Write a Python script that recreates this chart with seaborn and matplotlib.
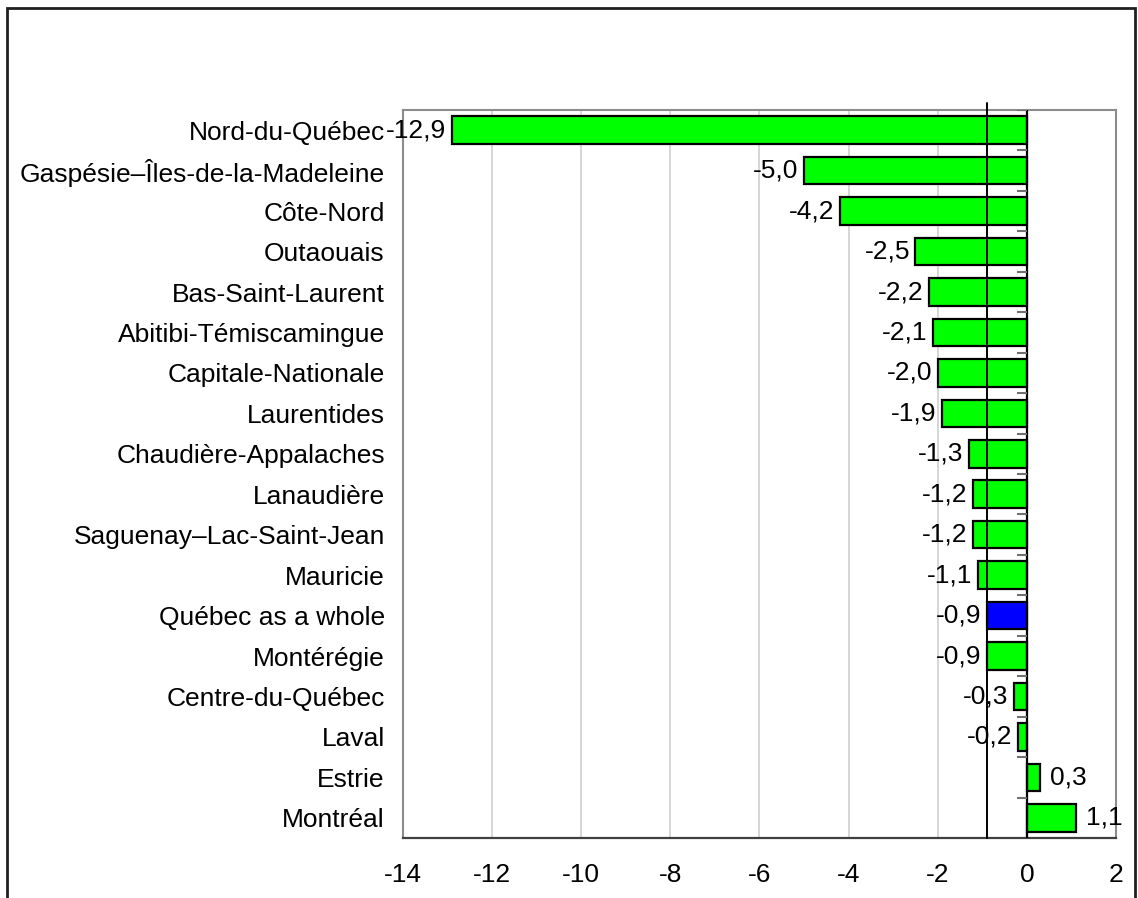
import numpy as np
import pandas as pd
import seaborn as sns
import matplotlib.pyplot as plt
from matplotlib.patches import Rectangle

# data
regions = ["Nord-du-Québec", "Gaspésie–Îles-de-la-Madeleine", "Côte-Nord", "Outaouais",
           "Bas-Saint-Laurent", "Abitibi-Témiscamingue", "Capitale-Nationale", "Laurentides",
           "Chaudière-Appalaches", "Lanaudière", "Saguenay–Lac-Saint-Jean", "Mauricie",
           "Québec as a whole", "Montérégie", "Centre-du-Québec", "Laval", "Estrie", "Montréal"]
values = [-12.9, -5.0, -4.2, -2.5, -2.2, -2.1, -2.0, -1.9, -1.3, -1.2, -1.2, -1.1,
          -0.9, -0.9, -0.3, -0.2, 0.3, 1.1]
whole = "Québec as a whole"
x_ticks = [-14, -12, -10, -8, -6, -4, -2, 0, 2]

df = pd.DataFrame({"region": regions, "value": values})
colors = {r: ("#0000FF" if r == whole else "#00FF00") for r in regions}

sns.set_style("white")
plt.rcParams['font.family'] = ['Liberation Sans', 'DejaVu Sans']
plt.rcParams['text.color'] = 'black'
plt.rcParams['xtick.color'] = 'black'
plt.rcParams['ytick.color'] = 'black'
fs = 19

fig = plt.figure(figsize=(11.38, 8.98), dpi=100)
ax = fig.add_axes([0.354, 0.0668, 0.6267, 0.8107])

sns.barplot(data=df, x="value", y="region", hue="region", palette=colors, legend=False,
            orient="h", width=0.68, saturation=1, edgecolor="black", linewidth=1.6,
            ax=ax, zorder=3)

ax.set_xlim(-14, 2)
ax.set_ylim(len(regions) - 0.5, -0.5)
ax.set_xticks(x_ticks)
ax.set_xticklabels([str(t) for t in x_ticks], fontsize=fs)
ax.tick_params(axis="x", direction="out", length=7, width=1.2, color="#404040", pad=11)
ax.tick_params(axis="y", length=0, pad=13, labelsize=fs)
ax.set_xlabel("")
ax.set_ylabel("")

ax.grid(axis="x", color="#d0d0d0", linewidth=1.2, zorder=0)
for side in ["left", "top", "right"]:
    ax.spines[side].set_color("#8c8c8c")
    ax.spines[side].set_linewidth(1.5)
ax.spines["bottom"].set_color("#404040")
ax.spines["bottom"].set_linewidth(1.6)

# category axis at zero with tick marks between bars
ax.axvline(0, color="black", linewidth=1.6, zorder=4)
bounds = np.arange(len(regions)) - 0.5
ax.hlines(bounds, -0.22, 0, color="#707070", linewidth=1.5, zorder=4)

# reference line at the Québec value
qv = values[regions.index(whole)]
ax.plot([qv, qv], [len(regions) - 0.5, -0.68], color="black", linewidth=1.4,
        zorder=5, clip_on=False)

# data labels
for i, v in enumerate(values):
    txt = f"{v:.1f}".replace(".", ",")
    if v < 0:
        ax.annotate(txt, (v, i), xytext=(-4, 0), textcoords="offset points",
                    ha="right", va="center", fontsize=fs, zorder=6)
    else:
        ax.annotate(txt, (v, i), xytext=(7, 0), textcoords="offset points",
                    ha="left", va="center", fontsize=fs, zorder=6)

# outer chart border
fig.patches.append(Rectangle((7 / 1138, -0.05), (1135 - 7) / 1138, 1.05 - 8 / 898,
                             transform=fig.transFigure, fill=False,
                             edgecolor="#202020", linewidth=2))

fig.savefig("out.png", dpi=100)
